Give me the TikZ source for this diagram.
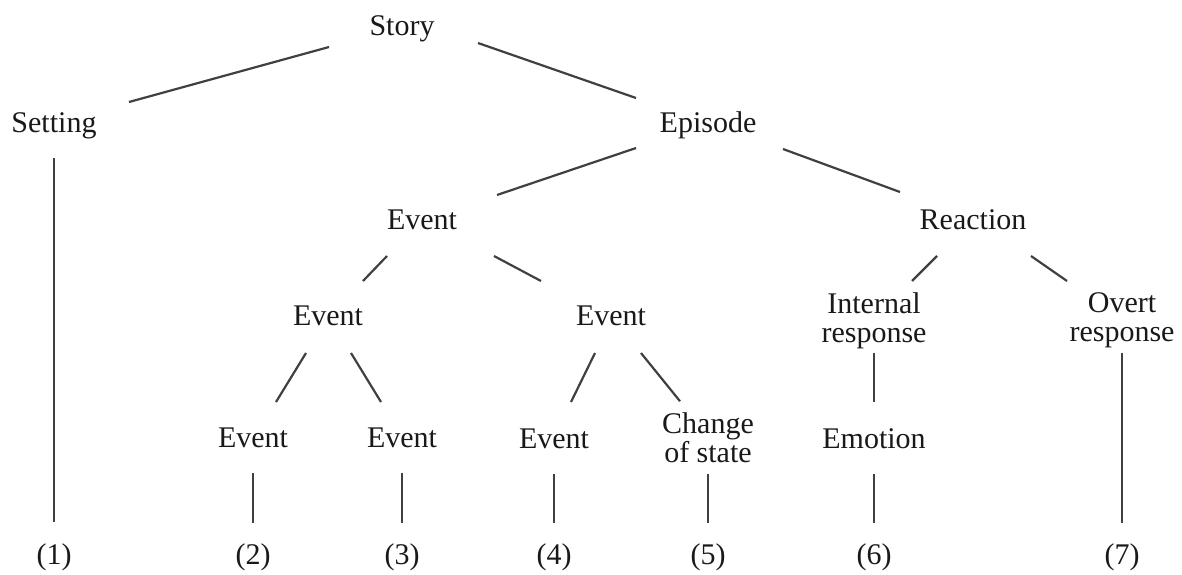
\documentclass[tikz,border=0pt]{standalone}
\usepackage{fontspec}
\setmainfont{Liberation Serif}
\begin{document}
\begin{tikzpicture}[x=1pt,y=-1pt,
  txt/.style={font=\fontsize{30}{29}\selectfont, text=black!90, inner sep=0pt},
  lbl/.style={txt, text height=21pt, text depth=7pt, anchor=center},
  lbltwo/.style={txt, align=center, anchor=center},
  edge/.style={draw=black!75, line width=2.2pt}]
\useasboundingbox (0,0) rectangle (1182,574);
% nodes
\node[lbl] (story)    at (402,28)  {Story};
\node[lbl] (setting)  at (54,125)  {Setting};
\node[lbl] (episode)  at (708,125) {Episode};
\node[lbl] (ev1)      at (422,222) {Event};
\node[lbl] (reaction) at (973,222) {Reaction};
\node[lbl] (ev2)      at (328,318) {Event};
\node[lbl] (ev3)      at (611,318) {Event};
\node[lbltwo] (internal) at (874,320.5) {Internal\\response};
\node[lbltwo] (overt)    at (1122,320.5) {Overt\\response};
\node[lbl] (ev4)      at (253,440) {Event};
\node[lbl] (ev5)      at (402,440) {Event};
\node[lbl] (ev6)      at (554,441) {Event};
\node[lbltwo] (change) at (708,437.25) {Change\\of state};
\node[lbl] (emotion)  at (874,441) {Emotion};
\node[lbl] (n1) at (54,557)   {(1)};
\node[lbl] (n2) at (253,557)  {(2)};
\node[lbl] (n3) at (402,557)  {(3)};
\node[lbl] (n4) at (554,557)  {(4)};
\node[lbl] (n5) at (708,557)  {(5)};
\node[lbl] (n6) at (874,557)  {(6)};
\node[lbl] (n7) at (1122,557) {(7)};
% connectors
\draw[edge] ([xshift=-73pt,yshift=-19pt]story.center) -- ([xshift=75pt,yshift=23pt]setting.center);
\draw[edge] ([xshift=76pt,yshift=-15pt]story.center) -- ([xshift=-72pt,yshift=27pt]episode.center);
\draw[edge] ([xshift=-72pt,yshift=-23pt]episode.center) -- ([xshift=75pt,yshift=27pt]ev1.center);
\draw[edge] ([xshift=75pt,yshift=-24pt]episode.center) -- ([xshift=-73pt,yshift=30pt]reaction.center);
\draw[edge] ([xshift=-35pt,yshift=-34pt]ev1.center) -- ([xshift=35pt,yshift=37pt]ev2.center);
\draw[edge] ([xshift=72pt,yshift=-34pt]ev1.center) -- ([xshift=-70pt,yshift=37pt]ev3.center);
\draw[edge] ([xshift=-36pt,yshift=-34pt]reaction.center) -- ([xshift=38pt,yshift=39.5pt]internal.center);
\draw[edge] ([xshift=58pt,yshift=-34pt]reaction.center) -- ([xshift=-55pt,yshift=39.5pt]overt.center);
\draw[edge] ([xshift=-22pt,yshift=-35pt]ev2.center) -- ([xshift=23pt,yshift=38pt]ev4.center);
\draw[edge] ([xshift=23pt,yshift=-35pt]ev2.center) -- ([xshift=-21pt,yshift=38pt]ev5.center);
\draw[edge] ([xshift=-16pt,yshift=-35pt]ev3.center) -- ([xshift=17pt,yshift=39pt]ev6.center);
\draw[edge] ([xshift=30pt,yshift=-35pt]ev3.center) -- ([xshift=-28pt,yshift=36pt]change.center);
\draw[edge] ([yshift=-32.5pt]internal.center) -- ([yshift=39pt]emotion.center);
\draw[edge] ([yshift=-32.5pt]overt.center) -- ([yshift=34pt]n7.center);
\draw[edge] ([yshift=-33pt]setting.center) -- ([yshift=35pt]n1.center);
\draw[edge] ([yshift=-33pt]ev4.center) -- ([yshift=34pt]n2.center);
\draw[edge] ([yshift=-33pt]ev5.center) -- ([yshift=34pt]n3.center);
\draw[edge] ([yshift=-33pt]ev6.center) -- ([yshift=34pt]n4.center);
\draw[edge] ([yshift=-37pt]change.center) -- ([yshift=34pt]n5.center);
\draw[edge] ([yshift=-33pt]emotion.center) -- ([yshift=34pt]n6.center);
\end{tikzpicture}
\end{document}
